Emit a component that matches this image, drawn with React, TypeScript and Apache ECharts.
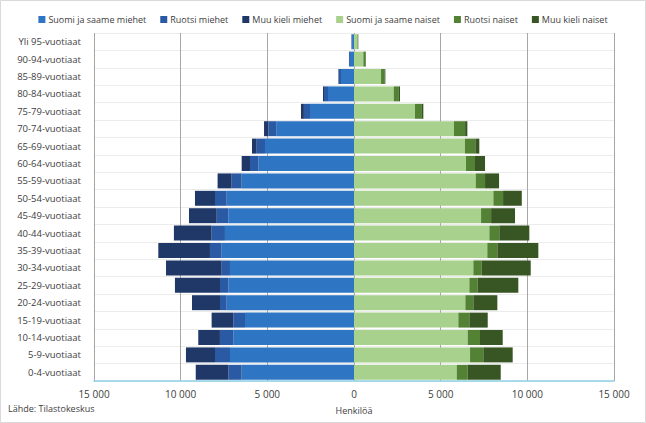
import React, { useEffect, useRef } from "react";
import * as echarts from "echarts";

const categories = [
  "Yli 95-vuotiaat", "90-94-vuotiaat", "85-89-vuotiaat", "80-84-vuotiaat", "75-79-vuotiaat",
  "70-74-vuotiaat", "65-69-vuotiaat", "60-64-vuotiaat", "55-59-vuotiaat", "50-54-vuotiaat",
  "45-49-vuotiaat", "40-44-vuotiaat", "35-39-vuotiaat", "30-34-vuotiaat", "25-29-vuotiaat",
  "20-24-vuotiaat", "15-19-vuotiaat", "10-14-vuotiaat", "5-9-vuotiaat", "0-4-vuotiaat",
];

// Men (top to bottom, same order as categories)
const suomiMiehet = [110, 230, 750, 1500, 2540, 4460, 5135, 5520, 6480, 7345, 7250, 7445, 7635, 7155, 7250, 7345, 6290, 6965, 7155, 6480];
const ruotsiMiehet = [30, 50, 120, 230, 350, 480, 480, 480, 580, 675, 670, 770, 675, 480, 480, 385, 675, 770, 865, 770];
const muuMiehet = [10, 10, 30, 60, 170, 250, 270, 480, 810, 1155, 1600, 2175, 2980, 3210, 2600, 1615, 1250, 1250, 1675, 1880];

// Women
const suomiNaiset = [200, 540, 1560, 2290, 3520, 5770, 6400, 6460, 7020, 8040, 7330, 7810, 7690, 6885, 6655, 6425, 6020, 6560, 6695, 5925];
const ruotsiNaiset = [40, 130, 220, 300, 400, 640, 600, 520, 540, 560, 580, 575, 580, 485, 485, 460, 635, 710, 765, 635];
const muuNaiset = [10, 20, 30, 65, 80, 130, 230, 580, 810, 1080, 1380, 1730, 2365, 2825, 2340, 1385, 1060, 1310, 1695, 1905];

const xTicks = { min: -15000, max: 15000, interval: 5000 };

const fmt = (v: number) => {
  const s = String(Math.abs(Math.round(v)));
  return s.replace(/\B(?=(\d{3})+(?!\d))/g, " ");
};

const FONT = "'Open Sans', 'Noto Sans', sans-serif";

export default function App() {
  const ref = useRef<HTMLDivElement>(null);
  useEffect(() => {
    document.body.style.margin = "0";
    if (!ref.current) return;
    const chart = echarts.init(ref.current, undefined, { renderer: "svg" });
    const neg = (a: number[]) => a.map((v) => -v);
    const barCommon = {
      type: "bar" as const,
      stack: "total",
      barCategoryGap: "14%",
    };
    chart.setOption({
      animation: false,
      backgroundColor: "#ffffff",
      textStyle: { fontFamily: FONT },
      legend: {
        top: 10,
        left: "center",
        itemWidth: 7,
        itemHeight: 7,
        itemGap: 14,
        icon: "rect",
        textStyle: { fontSize: 9, color: "#404040", fontFamily: FONT, padding: [0, 0, 0, -2] },
        data: [
          "Suomi ja saame miehet", "Ruotsi miehet", "Muu kieli miehet",
          "Suomi ja saame naiset", "Ruotsi naiset", "Muu kieli naiset",
        ],
      },
      grid: { left: 94, right: 32, top: 33, bottom: 42, containLabel: false },
      xAxis: {
        type: "value",
        min: xTicks.min,
        max: xTicks.max,
        interval: xTicks.interval,
        name: "Henkilöä",
        nameLocation: "middle",
        nameGap: 25,
        nameTextStyle: { fontSize: 9, color: "#404040", fontFamily: FONT },
        axisLine: { show: true, onZero: false, lineStyle: { color: "#8fd0e6", width: 1.5 } },
        axisTick: { show: false },
        axisLabel: { formatter: (v: number) => fmt(v), fontSize: 10, color: "#404040", margin: 8, fontFamily: FONT },
        splitLine: { show: true, showMinLine: true, showMaxLine: true, lineStyle: { color: "#a6a6a6", width: 1 } },
      },
      yAxis: {
        type: "category",
        data: categories,
        inverse: true,
        axisLine: { show: false },
        axisTick: { show: false },
        axisLabel: { fontSize: 9.5, color: "#404040", margin: 13, fontFamily: FONT },
        splitLine: { show: true, lineStyle: { color: "#ececec", width: 1 } },
      },
      graphic: [
        {
          type: "text",
          left: 8,
          top: 404,
          style: { text: "Lähde: Tilastokeskus", fontSize: 9, fill: "#404040", fontFamily: FONT },
        },
        {
          type: "rect",
          shape: { x: 0.5, y: 0.5, width: 645, height: 422 },
          style: { fill: "none", stroke: "#d9d9d9", lineWidth: 1 },
          silent: true,
        },
      ],
      series: [
        { ...barCommon, name: "Suomi ja saame miehet", data: neg(suomiMiehet), itemStyle: { color: "#2e75c4" } },
        { ...barCommon, name: "Ruotsi miehet", data: neg(ruotsiMiehet), itemStyle: { color: "#2a5aa3" } },
        { ...barCommon, name: "Muu kieli miehet", data: neg(muuMiehet), itemStyle: { color: "#1f3868" } },
        { ...barCommon, name: "Suomi ja saame naiset", data: suomiNaiset, itemStyle: { color: "#a9d18e" } },
        { ...barCommon, name: "Ruotsi naiset", data: ruotsiNaiset, itemStyle: { color: "#548235" } },
        { ...barCommon, name: "Muu kieli naiset", data: muuNaiset, itemStyle: { color: "#375623" } },
      ],
    });
    return () => chart.dispose();
  }, []);
  return <div ref={ref} style={{ width: 646, height: 423 }} />;
}
